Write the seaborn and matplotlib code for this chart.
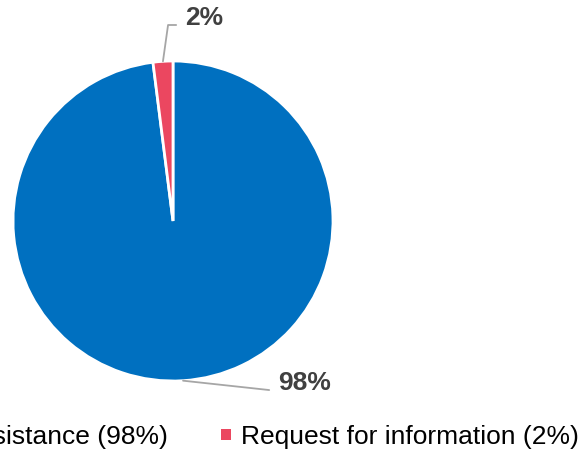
import numpy as np
import matplotlib
matplotlib.use("Agg")
import matplotlib.pyplot as plt
from matplotlib.patches import Patch
import seaborn as sns

# ==========================
# Data
# ==========================

categories = ["Request for assistance", "Request for information"]
shares = [98, 2]
colors = ["#0070C0", "#EB4760"]

sns.set_theme(style="white")
plt.rcParams["font.family"] = ["Liberation Sans", "DejaVu Sans"]

fig = plt.figure(figsize=(5.79, 4.51), dpi=100)

# pie box: 320 px square, centred at (173, 221) px
ax = fig.add_axes([13 / 579, 70 / 451, 320 / 579, 320 / 451])

wedges, _ = ax.pie(
    shares,
    colors=colors,
    startangle=90,
    counterclock=False,
    radius=1.0,
    wedgeprops=dict(edgecolor="white", linewidth=2),
)
ax.set_xlim(-1, 1)
ax.set_ylim(-1, 1)
ax.set_aspect("equal")
ax.axis("off")

# ==========================
# Data labels with leader lines
# ==========================

label_pos = [(0.656, -1.01), (0.075, 1.27)]
for w, share, pos, i in zip(wedges, shares, label_pos, range(2)):
    ang = np.deg2rad((w.theta1 + w.theta2) / 2)
    xy = (np.cos(ang), np.sin(ang))
    if i == 0:
        conn = "arc3,rad=0"
        rel = (0, 0.15)
    else:
        conn = "angle,angleA=0,angleB=82,rad=0"
        rel = (0, 0.2)
    ax.annotate(
        f"{share}%",
        xy=xy,
        xytext=pos,
        ha="left",
        va="center",
        fontsize=19,
        fontweight="bold",
        color="#404040",
        annotation_clip=False,
        arrowprops=dict(
            arrowstyle="-",
            color="#A6A6A6",
            lw=1.3,
            shrinkA=4,
            shrinkB=0,
            relpos=rel,
            connectionstyle=conn,
        ),
    )

# ==========================
# Legend
# ==========================

handles = [Patch(facecolor=c, edgecolor="none") for c in colors]

fig.legend(
    handles,
    [f"{c} ({s}%)" for c, s in zip(categories, shares)],
    loc="center",
    bbox_to_anchor=(190 / 579, 14 / 451),
    ncol=2,
    frameon=False,
    fontsize=19,
    handlelength=0.4,
    handleheight=0.24,
    handletextpad=0.35,
    columnspacing=2.0,
    labelcolor="black",
)

fig.savefig("out.png", dpi=100)
plt.close(fig)
